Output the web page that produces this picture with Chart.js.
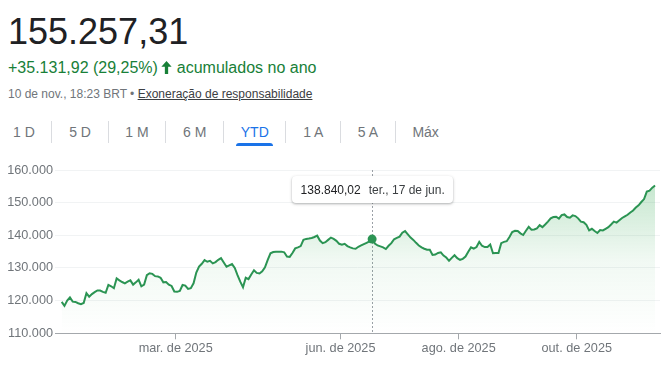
<!DOCTYPE html>
<html>
<head>
<meta charset="utf-8">
<script src="https://cdn.jsdelivr.net/npm/chart.js@4.4.1/dist/chart.umd.min.js"></script>
<style>
  body { margin: 0; width: 670px; height: 372px; background: #fff; position: relative; overflow: hidden;
         font-family: "Liberation Sans", Arial, sans-serif; }
  .price { position: absolute; left: 8px; top: 14px; font-size: 36px; line-height: 36px; color: #202124; }
  .change { position: absolute; left: 8px; top: 60px; font-size: 16px; line-height: 16px; color: #188038; white-space: nowrap; }
  .change svg { vertical-align: -1px; margin: 0 0 0 -1px; }
  .meta { position: absolute; left: 8px; top: 88px; font-size: 12px; line-height: 12px; color: #70757a; white-space: nowrap; }
  .meta u { color: #3c4043; }
  .tabs { position: absolute; left: 0; top: 121px; display: flex; align-items: center; height: 22px; }
  .tab { font-size: 14px; line-height: 22px; color: #70757a; padding: 0 16.7px; position: relative; white-space: nowrap; }
  .tab:first-child { padding-left: 13px; }
  .tab.on { color: #1a73e8; }
  .tab.on::after { content: ''; position: absolute; left: 12px; right: 12px; bottom: -3px; height: 3px;
                   background: #1a73e8; border-radius: 3px 3px 0 0; }
  .sep { width: 1px; height: 22px; background: #dadce0; }
  .wrap { position: absolute; left: 0; top: 150px; width: 670px; height: 222px; }
  .tip { position: absolute; top: 176px; height: 27px; background: #fff; border-radius: 4px; white-space: nowrap;
         box-shadow: 0 1px 3px rgba(60,64,67,.3), 0 1px 2px rgba(60,64,67,.15);
         display: flex; align-items: center; padding: 0 8px 0 9px; font-size: 12px; color: #3c4043; }
  .tip b { font-weight: normal; color: #202124; margin-right: 8px; }
</style>
</head>
<body>
<div class="price">155.257,31</div>
<div class="change">+35.131,92 (29,25%) <svg width="11" height="13" viewBox="0 0 12 14"><path fill="#188038" d="M6 0L11.6 6.2H7.8V14H4.2V6.2H0.4Z"/></svg> acumulados no ano</div>
<div class="meta">10 de nov., 18:23 BRT • <u>Exoneração de responsabilidade</u></div>
<div class="tabs" id="tabs"></div>
<div class="wrap"><canvas id="chart"></canvas></div>
<div class="tip" id="tip"></div>
<script>
const ranges = ['1 D', '5 D', '1 M', '6 M', 'YTD', '1 A', '5 A', 'Máx'];
const selectedRange = 'YTD';

// fechamento diário, 2 jan. a 10 nov. de 2025
const closes = [
  119600, 118400, 120000, 121000, 119700, 119600, 119200, 118900, 119300, 122300,
  121200, 122000, 122600, 123100, 123100, 122700, 122400, 124800, 124400, 123800,
  126800, 126200, 125700, 125300, 125800, 126200, 124900, 125600, 126400, 124400,
  124900, 127800, 128400, 128200, 127500, 127400, 127000, 125600, 125700, 124900,
  124500, 122800, 122700, 123000, 124800, 124600, 123600, 123800, 125300, 128600,
  130400, 131300, 132400, 131900, 132200, 131400, 131800, 132500, 133000, 131700,
  130400, 130800, 131200, 130000, 127800, 125800, 124100, 127000, 126600, 128000,
  129300, 128500, 128300, 129000, 130200, 132500, 134500, 134900, 135000, 135000,
  135000, 134800, 133500, 133400, 134600, 136000, 136300, 136700, 138600, 138900,
  139000, 139200, 139500, 139900, 138400, 137600, 137900, 138600, 139300, 138900,
  138300, 137400, 137100, 137400, 136700, 136300, 136000, 135900, 136500, 136900,
  137300, 137700, 138100, 138840.02, 137500, 136900, 136600, 136300, 135800, 136800,
  137600, 138800, 139200, 139600, 140800, 141300, 140300, 139300, 138600, 137700,
  136900, 136300, 135900, 135600, 135600, 134000, 134100, 134600, 134800, 133800,
  133200, 132200, 133100, 133900, 133000, 132500, 132800, 133500, 135000, 136300,
  135900, 136400, 138000, 136800, 136400, 136400, 137200, 134500, 134600, 134600,
  137600, 138000, 138200, 139500, 141000, 141400, 141300, 140600, 140100, 141400,
  142600, 141700, 141800, 142100, 143100, 142500, 143300, 144200, 145200, 145600,
  145700, 145100, 146200, 146400, 145600, 145400, 146100, 145900, 145200, 144200,
  144000, 143200, 141500, 142000, 141300, 140700, 141600, 141500, 142000, 142500,
  143300, 144200, 143900, 144600, 145300, 145800, 146300, 147000, 147600, 148500,
  149200, 150200, 151100, 153400, 153700, 154600, 155257.31
];

// limites entre meses (em pregões desde 2 jan.)
const monthTicks = [41.5, 101.5, 144.5, 187.5];
const monthLabels = ['mar. de 2025', 'jun. de 2025', 'ago. de 2025', 'out. de 2025'];

const yMin = 110000, yMax = 160000, yStep = 10000;

const activeIndex = 113;
const activeDate = 'ter., 17 de jun.';

const lineColor = '#2b9453';
const gridColor = '#f1f3f4';
const axisColor = '#a4a8ac';
const textColor = '#70757a';

function fmtBR(v, dec) {
  const [int, frac] = v.toFixed(dec).split('.');
  const s = int.replace(/\B(?=(\d{3})+(?!\d))/g, '.');
  return frac ? s + ',' + frac : s;
}

// abas
const tabs = document.getElementById('tabs');
ranges.forEach((r, i) => {
  if (i > 0) {
    const s = document.createElement('div');
    s.className = 'sep';
    tabs.appendChild(s);
  }
  const t = document.createElement('div');
  t.className = 'tab' + (r === selectedRange ? ' on' : '');
  t.textContent = r;
  tabs.appendChild(t);
});

Chart.defaults.font.family = '"Liberation Sans", Arial, sans-serif';
Chart.defaults.color = textColor;

const crosshair = {
  id: 'crosshair',
  beforeDatasetsDraw(chart) {
    const { ctx, chartArea, scales } = chart;
    const x = Math.round(scales.x.getPixelForValue(activeIndex)) + 0.5;
    ctx.save();
    ctx.strokeStyle = '#9aa0a6';
    ctx.lineWidth = 1;
    ctx.setLineDash([2, 2]);
    ctx.beginPath();
    ctx.moveTo(x, chartArea.top);
    ctx.lineTo(x, chartArea.bottom);
    ctx.stroke();
    ctx.restore();
  }
};

const chart = new Chart(document.getElementById('chart'), {
  type: 'line',
  data: {
    datasets: [{
      data: closes.map((v, i) => ({ x: i, y: v })),
      borderColor: lineColor,
      borderWidth: 2,
      tension: 0,
      fill: 'start',
      backgroundColor: (ctx) => {
        const { chartArea, ctx: c } = ctx.chart;
        if (!chartArea) return 'transparent';
        const g = c.createLinearGradient(0, chartArea.top, 0, chartArea.bottom);
        g.addColorStop(0, 'rgba(52,168,83,0.32)');
        g.addColorStop(0.55, 'rgba(52,168,83,0.07)');
        g.addColorStop(1, 'rgba(52,168,83,0)');
        return g;
      },
      pointRadius: (ctx) => ctx.dataIndex === activeIndex ? 4.5 : 0,
      pointBackgroundColor: lineColor,
      pointBorderWidth: 0,
      pointHoverRadius: 0,
    }],
  },
  options: {
    responsive: true,
    maintainAspectRatio: false,
    animation: false,
    events: [],
    layout: { padding: { top: 20, right: 10, left: 0, bottom: 0 } },
    plugins: { legend: { display: false }, tooltip: { enabled: false } },
    scales: {
      x: {
        type: 'linear',
        min: -2.44,
        max: 217.8,
        afterBuildTicks: (s) => { s.ticks = monthTicks.map(v => ({ value: v })); },
        afterFit: (s) => { s.height = 38.7; },
        ticks: {
          autoSkip: false,
          maxRotation: 0,
          padding: 2,
          font: { size: 12.7 },
          callback: (v, i) => monthLabels[i],
        },
        grid: { drawOnChartArea: false, drawTicks: true, tickLength: 6, color: axisColor },
        border: { display: true, color: axisColor, width: 1 },
      },
      y: {
        min: yMin,
        max: yMax,
        afterFit: (s) => { s.width = 55; },
        ticks: {
          stepSize: yStep,
          padding: 2,
          font: { size: 12.7 },
          callback: (v) => fmtBR(v, 0),
        },
        grid: { drawTicks: false, color: (c) => c.tick.value === yMin ? 'transparent' : gridColor },
        border: { display: false },
      },
    },
  },
  plugins: [crosshair],
});

// caixa de valor no ponto ativo
const tip = document.getElementById('tip');
tip.innerHTML = '<b>' + fmtBR(closes[activeIndex], 2) + '</b>' + activeDate;
const px = chart.scales.x.getPixelForValue(activeIndex);
tip.style.left = (px - tip.offsetWidth / 2) + 'px';
</script>
</body>
</html>
